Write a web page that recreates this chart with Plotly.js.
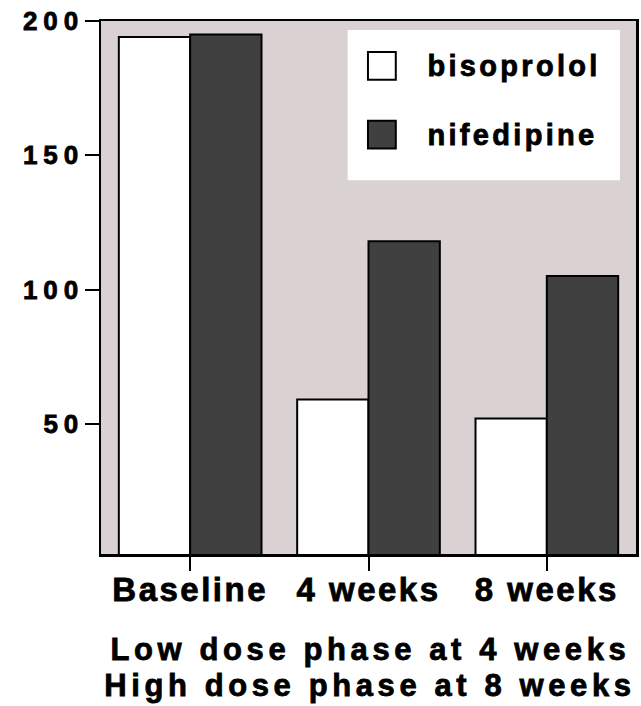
<!DOCTYPE html>
<html>
<head>
<meta charset="utf-8">
<script src="https://cdn.plot.ly/plotly-3.0.1.min.js"></script>
<style>
  body { margin: 0; background: #fff; }
  #chart { width: 641px; height: 706px; }
  #chart svg text { stroke: #000; stroke-width: 0.8px; }
  .xtick text { letter-spacing: 2.5px; }
  .ytick text { letter-spacing: 6px; }
  .annotation[data-index="0"] text, .annotation[data-index="1"] text { letter-spacing: 3.3px; }
  .annotation[data-index="2"] text, .annotation[data-index="3"] text { letter-spacing: 4.6px; }
</style>
</head>
<body>
<div id="chart"></div>
<script>
const categories = ["Baseline", "4 weeks", "8 weeks"];
const seriesNames = ["bisoprolol", "nifedipine"];
const bisoprolol = [194, 59, 52];
const nifedipine = [195, 118, 105];
const yTickVals = [50, 100, 150, 200];
const yTickText = ["50", "100", "150", "200"];
const titleLines = ["Low dose phase at 4 weeks", "High dose phase at 8 weeks"];

const FONT = "Liberation Sans, Arial, sans-serif";
const colors = ["#ffffff", "#404040"];

const traces = [
  { type: "bar", name: seriesNames[0], x: categories, y: bisoprolol,
    marker: { color: colors[0], line: { color: "#000", width: 2 } }, showlegend: false },
  { type: "bar", name: seriesNames[1], x: categories, y: nifedipine,
    marker: { color: colors[1], line: { color: "#000", width: 2 } }, showlegend: false }
];

// manual legend (box, swatches, labels) in paper coordinates
const shapes = [
  { type: "rect", xref: "paper", yref: "paper", x0: 0.461, x1: 0.970, y0: 0.701, y1: 0.983,
    fillcolor: "#ffffff", line: { width: 0 } }
];
const annotations = [];
const legY = [0.916, 0.787];
seriesNames.forEach((n, i) => {
  shapes.push({ type: "rect", xref: "paper", yref: "paper",
    x0: 0.499, x1: 0.551, y0: legY[i] - 0.026, y1: legY[i] + 0.026,
    fillcolor: colors[i], line: { color: "#000", width: 2 } });
  annotations.push({ xref: "paper", yref: "paper", x: 0.637, y: legY[i], text: n,
    showarrow: false, xanchor: "left", yanchor: "middle",
    font: { family: FONT, size: 29, color: "#000", weight: "bold" } });
});
const titleY = [649, 685];
titleLines.forEach((t, i) => {
  annotations.push({ xref: "paper", yref: "paper", x: 0.503,
    y: (706 - 152 - titleY[i]) / (706 - 21 - 152), text: t, showarrow: false,
    xanchor: "center", yanchor: "middle",
    font: { family: FONT, size: 31, color: "#000", weight: "bold" } });
});

const layout = {
  width: 641, height: 706,
  margin: { l: 101, r: 5, t: 21, b: 152 },
  paper_bgcolor: "#ffffff",
  plot_bgcolor: "#d9d1d2",
  barmode: "group", bargap: 0.2, bargroupgap: 0,
  showlegend: false,
  xaxis: {
    type: "category", showline: true, linecolor: "#000", linewidth: 2.5, mirror: true,
    ticks: "outside", ticklen: 14, tickwidth: 2, tickcolor: "#000",
    showgrid: false, zeroline: false,
    tickfont: { family: FONT, size: 33, color: "#000", weight: "bold" },
    ticklabelstandoff: -9
  },
  yaxis: {
    range: [1.5, 200], showline: true, linecolor: "#000", linewidth: 2.5, mirror: true,
    ticks: "outside", ticklen: 14, tickwidth: 2, tickcolor: "#000",
    tickvals: yTickVals, ticktext: yTickText,
    showgrid: false, zeroline: false,
    tickfont: { family: FONT, size: 26, color: "#000", weight: "bold" },
    ticklabelstandoff: -5
  },
  shapes: shapes,
  annotations: annotations
};

Plotly.newPlot("chart", traces, layout, { staticPlot: true, displayModeBar: false });
</script>
</body>
</html>
